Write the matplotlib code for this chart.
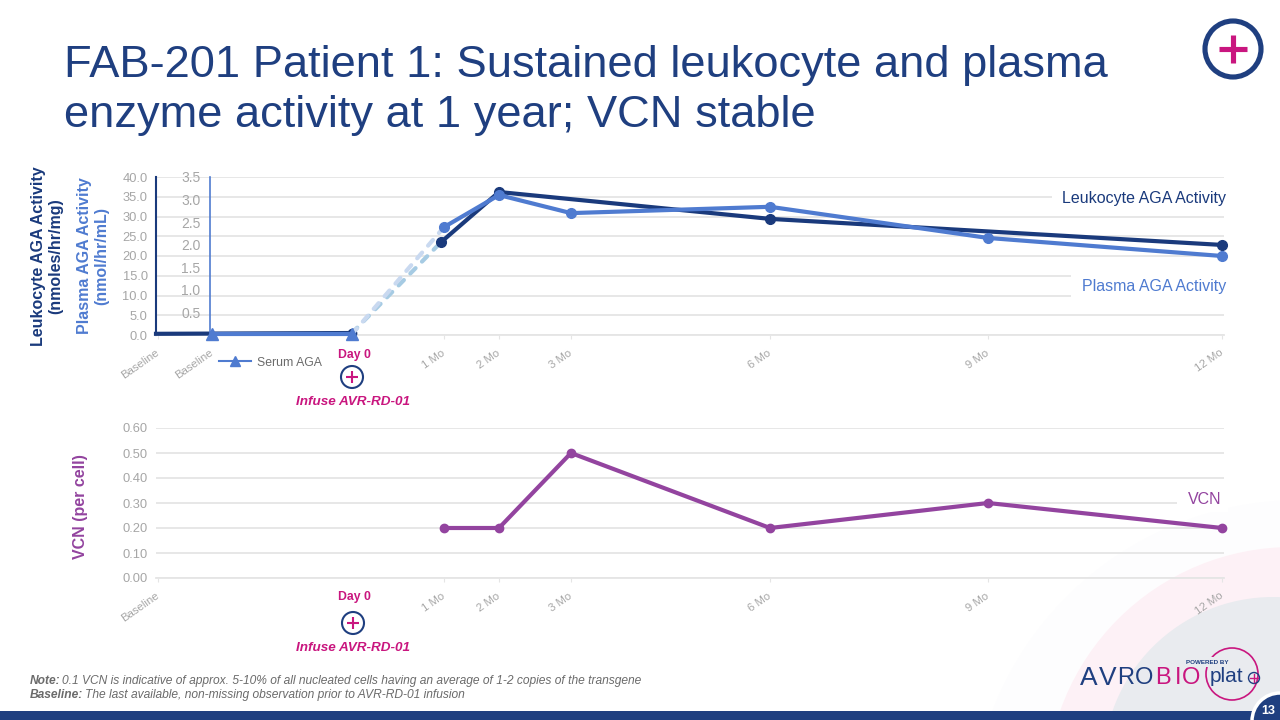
import numpy as np
import matplotlib
matplotlib.use("Agg")
import matplotlib.pyplot as plt
from matplotlib.patches import Circle, Rectangle

plt.rcParams['font.family'] = ['Liberation Sans', 'DejaVu Sans']

# Data. x axis is not a true time scale, so visits get their own positions
tick_pos = [2, 56, 288, 343, 415, 614, 832, 1066]
top_tick_labels = ["Baseline", "Baseline", "1 Mo", "2 Mo", "3 Mo", "6 Mo", "9 Mo", "12 Mo"]
bottom_tick_pos = [2, 288, 343, 415, 614, 832, 1066]
bottom_tick_labels = ["Baseline", "1 Mo", "2 Mo", "3 Mo", "6 Mo", "9 Mo", "12 Mo"]

leuk_base_x = [0, 196]
leuk_base_y = [0.3, 0.5]
leuk_dash_x = [196, 285]
leuk_dash_y = [0.5, 23.5]
leuk_x = [285, 343, 614, 1066]
leuk_y = [23.5, 36.2, 29.4, 22.8]

serum_x = [56, 196]
serum_y = [0.02, 0.02]
plasma_dash_x = [196, 288]
plasma_dash_y = [0.02, 2.39]
plasma_x = [288, 343, 415, 614, 832, 1066]
plasma_y = [2.39, 3.10, 2.70, 2.84, 2.15, 1.75]

vcn_x = [288, 343, 415, 614, 832, 1066]
vcn_y = [0.2, 0.2, 0.5, 0.2, 0.3, 0.2]

NAVY = "#1f3f80"
DARK = "#1a3a7c"
BLUE = "#4f7bd0"
PURPLE = "#93449f"
MAGENTA = "#c9167f"
GRID = "#e5e5e5"
TICK = "#a6a6a6"
NOTE = "#6b6b6b"

W, H = 1280, 720
fig = plt.figure(figsize=(12.8, 7.2), dpi=100, facecolor="white")


def px_axes(x0, y0, x1, y1, **kw):
    # axes from pixel box, y measured from the top
    return fig.add_axes([x0 / W, 1 - y1 / H, (x1 - x0) / W, (y1 - y0) / H], **kw)


def page_axes(zorder):
    a = px_axes(0, 0, W, H, zorder=zorder)
    a.set_xlim(0, W)
    a.set_ylim(H, 0)
    a.axis("off")
    return a


# page furniture in pixel coordinates, bg behind the charts and fg on top of them
bg = page_axes(0)
fg = page_axes(1)
bg.add_patch(Circle((1300, 830), 330, color="#fdfdfe", lw=0))
bg.add_patch(Circle((1292, 793), 246, color="#fdf1f6", lw=0))
bg.add_patch(Circle((1273, 767), 170, color="#e9ebef", lw=0))
bg.add_patch(Rectangle((0, 711), W, 9, color=NAVY, lw=0))
bg.add_patch(Circle((1280, 721), 28, fc=NAVY, ec="white", lw=2.5))
bg.text(1268, 711, "13", color="white", fontsize=9, fontweight="bold", ha="center", va="center")

bg.text(64, 65, "FAB-201 Patient 1: Sustained leukocyte and plasma", color=NAVY, fontsize=32.6, va="center")
bg.text(64, 115, "enzyme activity at 1 year; VCN stable", color=NAVY, fontsize=32.6, va="center")


def plus_icon(x, y, r, lw, plus):
    bg.add_patch(Circle((x, y), r, fc="white", ec=NAVY, lw=lw, zorder=5))
    bg.plot([x - plus, x + plus], [y, y], color=MAGENTA, lw=lw, solid_capstyle="butt", zorder=6)
    bg.plot([x, x], [y - plus, y + plus], color=MAGENTA, lw=lw, solid_capstyle="butt", zorder=6)


plus_icon(1233, 49, 28, 3.7, 14)
plus_icon(352, 377, 11, 1.5, 6)
plus_icon(353, 623, 11, 1.5, 6)

for y_day, y_inf in [(355, 402), (597, 648)]:
    bg.text(354, y_day, "Day 0", color=MAGENTA, fontsize=8.8, fontweight="bold", ha="center", va="center")
    bg.text(353, y_inf, "Infuse AVR-RD-01", color=MAGENTA, fontsize=9.7, fontweight="bold",
            style="italic", ha="center", va="center")

bg.text(47.5, 256, "Leukocyte AGA Activity\n(nmoles/hr/mg)", color=DARK, fontsize=11.5, fontweight="bold",
        rotation=90, ha="center", va="center", linespacing=1.2)
bg.text(93.5, 256, "Plasma AGA Activity\n(nmol/hr/mL)", color=BLUE, fontsize=11.5, fontweight="bold",
        rotation=90, ha="center", va="center", linespacing=1.2)
bg.text(81, 507, "VCN (per cell)", color=PURPLE, fontsize=11.5, fontweight="bold",
        rotation=90, ha="center", va="center")

bg.text(30, 681, "Note:", color=NOTE, fontsize=8.65, fontweight="bold", style="italic", va="center")
bg.text(62, 681, "0.1 VCN is indicative of approx. 5-10% of all nucleated cells having an average of 1-2 copies of the transgene",
        color=NOTE, fontsize=8.65, style="italic", va="center")
bg.text(30, 695, "Baseline:", color=NOTE, fontsize=8.65, fontweight="bold", style="italic", va="center")
bg.text(85, 695, "The last available, non-missing observation prior to AVR-RD-01 infusion",
        color=NOTE, fontsize=8.65, style="italic", va="center")

# logo as text
logo_letters = ["A", "V", "R", "O", "B", "I", "O"]
logo_x = [1089, 1108, 1126, 1144, 1163, 1178, 1191]
logo_c = [NAVY, NAVY, NAVY, NAVY, MAGENTA, MAGENTA, MAGENTA]
logo_s = [19, 19, 17, 17, 17, 17, 17]
for ch, lx, lc, ls in zip(logo_letters, logo_x, logo_c, logo_s):
    bg.text(lx, 678, ch, color=lc, fontsize=ls, ha="center", va="center")
bg.add_patch(Circle((1232, 674), 26, fc="none", ec=MAGENTA, lw=1.2))
bg.add_patch(Rectangle((1186, 657), 44, 10, color="#e9ebef", lw=0))
bg.text(1207, 662, "POWERED BY", color=NAVY, fontsize=4.5, fontweight="bold", ha="center", va="center")
bg.text(1210, 677, "plat", color=NAVY, fontsize=15, ha="left", va="center")
bg.add_patch(Circle((1254, 678), 5.5, fc="none", ec=NAVY, lw=1))
bg.plot([1250, 1258], [678, 678], color=MAGENTA, lw=1)
bg.plot([1254, 1254], [674, 682], color=MAGENTA, lw=1)


def style_axis(ax, ticks, labels, ylim, yticks, yfmt):
    ax.set_xlim(0, 1068)
    ax.set_ylim(*ylim)
    ax.patch.set_alpha(0)
    ax.set_yticks(yticks)
    ax.set_yticklabels([yfmt.format(v) for v in yticks], color=TICK, fontsize=9.3)
    ax.set_xticks(ticks)
    ax.set_xticklabels(labels, rotation=35, ha="right", va="center", rotation_mode="anchor", color=TICK, fontsize=8.2)
    ax.tick_params(axis="y", length=0, pad=6)
    ax.tick_params(axis="x", length=3, width=0.8, color=GRID, pad=9)
    ax.grid(True, axis="y", color=GRID, lw=1.3)
    ax.set_axisbelow(True)
    for side in ["top", "right", "left"]:
        ax.spines[side].set_visible(False)
    ax.spines["bottom"].set_color(GRID)
    ax.spines["bottom"].set_linewidth(1.3)


# top panel, leukocyte on the outer axis
ax = px_axes(156, 177, 1224, 335, zorder=2)
style_axis(ax, tick_pos, top_tick_labels, (0, 40), np.arange(0, 40.1, 5), "{:.1f}")
ax.spines["left"].set_visible(True)
ax.spines["left"].set_color(DARK)
ax.spines["left"].set_linewidth(1.5)
ax.plot(leuk_dash_x, leuk_dash_y, color="#a6cbe3", lw=3, ls=(0, (1.8, 2.2)), dash_capstyle="round", zorder=3)
ax.plot(leuk_base_x, leuk_base_y, color=DARK, lw=3, zorder=3, clip_on=False)
ax.plot(leuk_base_x[-1:], leuk_base_y[-1:], "o", color=DARK, ms=6, zorder=3, clip_on=False)
ax.plot(leuk_x, leuk_y, "-o", color=DARK, lw=3, ms=7, zorder=3, clip_on=False)

# plasma on its own scale, spine moved inside the plot as on the slide
ax2 = ax.twinx()
ax2.set_zorder(3)
ax2.patch.set_alpha(0)
ax2.set_xlim(0, 1068)
ax2.set_ylim(0, 3.5)
ax2.set_yticks(np.arange(0.5, 3.6, 0.5))
ax2.set_yticklabels([f"{v:.1f}" for v in np.arange(0.5, 3.6, 0.5)], fontsize=9)
ax2.yaxis.tick_left()
ax2.tick_params(axis="y", length=0, pad=7, labelcolor=TICK)
for side in ["top", "right", "bottom"]:
    ax2.spines[side].set_visible(False)
ax2.spines["left"].set_position(("data", 54))
ax2.spines["left"].set_color(BLUE)
ax2.spines["left"].set_linewidth(1.2)
ax2.plot(plasma_dash_x, plasma_dash_y, color="#c9d9f0", lw=3, ls=(0, (1.8, 2.2)), dash_capstyle="round")
ax2.plot(serum_x, serum_y, "-^", color=BLUE, lw=3, ms=8, clip_on=False)
ax2.plot(plasma_x, plasma_y, "-o", color=BLUE, lw=3, ms=7, clip_on=False)

leg_handle = plt.Line2D([], [], color=BLUE, lw=1.5, marker="^", ms=7)
ax2.legend([leg_handle], ["Serum AGA"], loc="center left", bbox_to_anchor=(0.059, -0.175), frameon=False,
           fontsize=8.8, labelcolor=NOTE, handlelength=2.6, handletextpad=0.5, borderpad=0, borderaxespad=0)

# bottom panel, VCN
ax3 = px_axes(156, 428, 1224, 578, zorder=2)
style_axis(ax3, bottom_tick_pos, bottom_tick_labels, (0, 0.6), np.arange(0, 0.61, 0.1), "{:.2f}")
ax3.plot(vcn_x, vcn_y, "-o", color=PURPLE, lw=3, ms=6, clip_on=False, zorder=3)

# series name boxes sit on top of the gridlines
fg.set_zorder(10)
fg.add_patch(Rectangle((1052, 190), 176, 15, color="white", lw=0))
fg.add_patch(Rectangle((1071, 270), 157, 32, color="white", lw=0))
fg.add_patch(Rectangle((1177, 491), 51, 21, color="white", lw=0))
fg.text(1226, 198, "Leukocyte AGA Activity", color=DARK, fontsize=11.5, ha="right", va="center")
fg.text(1226, 286, "Plasma AGA Activity", color=BLUE, fontsize=11.5, ha="right", va="center")
fg.text(1221, 500, "VCN", color=PURPLE, fontsize=11.5, ha="right", va="center")

fig.savefig("out.png", dpi=100)
